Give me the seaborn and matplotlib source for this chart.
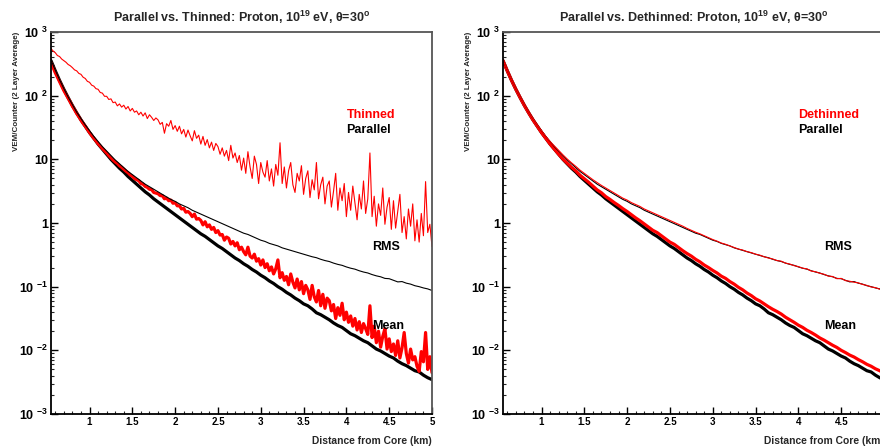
import seaborn as sns
import matplotlib.pyplot as plt
import numpy as np
from matplotlib.ticker import LogLocator, MultipleLocator, NullFormatter

# Distance bins (km) -- 0.05 km for the smooth curves, 0.025 km for the noisy thinned ones
dist = np.round(np.linspace(0.55, 5.0, 90), 3)
dist_fine = np.round(np.linspace(0.55, 5.0, 179), 3)

# All values are log10(VEM/counter)
parallel_mean = [
    2.55, 2.39, 2.24, 2.10, 1.97, 1.845, 1.73, 1.62, 1.52, 1.42,
    1.33, 1.24, 1.16, 1.08, 1.00, 0.93, 0.86, 0.80, 0.73, 0.67,
    0.61, 0.55, 0.49, 0.44, 0.38, 0.33, 0.28, 0.23, 0.18, 0.13,
    0.08, 0.03, -0.02, -0.07, -0.12, -0.17, -0.21, -0.26, -0.31, -0.36,
    -0.40, -0.45, -0.50, -0.55, -0.59, -0.64, -0.68, -0.73, -0.77, -0.82,
    -0.86, -0.91, -0.95, -1.00, -1.04, -1.09, -1.13, -1.18, -1.22, -1.27,
    -1.30, -1.35, -1.41, -1.44, -1.48, -1.52, -1.57, -1.61, -1.64, -1.69,
    -1.74, -1.77, -1.81, -1.85, -1.88, -1.93, -1.98, -2.01, -2.05, -2.09,
    -2.12, -2.17, -2.21, -2.24, -2.28, -2.32, -2.34, -2.39, -2.43, -2.46,
]
parallel_rms = [
    2.56, 2.40, 2.25, 2.11, 1.98, 1.86, 1.74, 1.64, 1.54, 1.45,
    1.36, 1.28, 1.20, 1.13, 1.06, 0.99, 0.93, 0.87, 0.81, 0.76,
    0.71, 0.66, 0.61, 0.57, 0.53, 0.49, 0.45, 0.41, 0.37, 0.34,
    0.30, 0.27, 0.24, 0.20, 0.17, 0.14, 0.11, 0.08, 0.05, 0.02,
    -0.01, -0.04, -0.07, -0.10, -0.13, -0.16, -0.18, -0.21, -0.24, -0.27,
    -0.29, -0.32, -0.34, -0.36, -0.39, -0.41, -0.43, -0.45, -0.47, -0.49,
    -0.51, -0.53, -0.545, -0.57, -0.59, -0.605, -0.63, -0.65, -0.665, -0.69,
    -0.71, -0.725, -0.75, -0.77, -0.785, -0.81, -0.83, -0.845, -0.87, -0.875,
    -0.90, -0.925, -0.92, -0.945, -0.96, -0.985, -1.00, -1.02, -1.035, -1.06,
]
dethinned_mean = [
    2.55, 2.39, 2.24, 2.10, 1.97, 1.845, 1.73, 1.62, 1.52, 1.42,
    1.33, 1.24, 1.16, 1.08, 1.005, 0.94, 0.875, 0.82, 0.75, 0.695,
    0.64, 0.58, 0.52, 0.475, 0.415, 0.37, 0.32, 0.275, 0.225, 0.18,
    0.13, 0.08, 0.035, -0.015, -0.065, -0.115, -0.15, -0.20, -0.25, -0.30,
    -0.335, -0.385, -0.435, -0.48, -0.52, -0.57, -0.61, -0.66, -0.70, -0.745,
    -0.785, -0.835, -0.87, -0.92, -0.96, -1.01, -1.05, -1.10, -1.14, -1.19,
    -1.225, -1.27, -1.315, -1.355, -1.39, -1.43, -1.48, -1.52, -1.56, -1.605,
    -1.64, -1.685, -1.72, -1.76, -1.805, -1.84, -1.88, -1.92, -1.955, -2.00,
    -2.035, -2.075, -2.105, -2.145, -2.18, -2.22, -2.25, -2.29, -2.32, -2.36,
]
dethinned_rms = [
    2.56, 2.40, 2.25, 2.11, 1.98, 1.86, 1.74, 1.64, 1.54, 1.45,
    1.36, 1.28, 1.21, 1.14, 1.07, 1.005, 0.945, 0.89, 0.83, 0.78,
    0.73, 0.68, 0.635, 0.59, 0.55, 0.51, 0.47, 0.43, 0.39, 0.36,
    0.32, 0.29, 0.26, 0.22, 0.19, 0.16, 0.13, 0.10, 0.07, 0.04,
    0.01, -0.02, -0.05, -0.085, -0.115, -0.145, -0.17, -0.20, -0.23, -0.26,
    -0.285, -0.315, -0.335, -0.36, -0.385, -0.41, -0.425, -0.45, -0.465, -0.49,
    -0.505, -0.53, -0.55, -0.565, -0.59, -0.60, -0.63, -0.645, -0.67, -0.685,
    -0.71, -0.72, -0.755, -0.765, -0.79, -0.805, -0.835, -0.84, -0.875, -0.87,
    -0.905, -0.915, -0.93, -0.94, -0.965, -0.98, -1.005, -1.015, -1.04, -1.055,
]
thinned_mean = [
    2.52, 2.44, 2.36, 2.29, 2.22, 2.15, 2.08, 2.02, 1.96, 1.90,
    1.835, 1.78, 1.72, 1.67, 1.615, 1.565, 1.52, 1.47, 1.42, 1.375,
    1.33, 1.29, 1.245, 1.21, 1.17, 1.135, 1.10, 1.06, 1.025, 0.99,
    0.96, 0.935, 0.90, 0.875, 0.845, 0.815, 0.79, 0.755, 0.735, 0.70,
    0.68, 0.665, 0.62, 0.61, 0.575, 0.56, 0.53, 0.525, 0.48, 0.47,
    0.46, 0.43, 0.43, 0.38, 0.39, 0.35, 0.36, 0.31, 0.32, 0.27,
    0.27, 0.22, 0.23, 0.17, 0.18, 0.15, 0.10, 0.14, 0.06, 0.07,
    0.04, -0.03, 0.02, -0.06, -0.03, -0.10, -0.07, -0.15, -0.12, -0.19,
    -0.18, -0.27, -0.22, -0.24, -0.33, -0.29, -0.36, -0.31, -0.42, -0.38,
    -0.45, -0.50, -0.38, -0.52, -0.55, -0.49, -0.60, -0.56, -0.66, -0.58,
    -0.70, -0.64, -0.75, -0.69, -0.80, -0.72, -0.58, -0.86, -0.78, -0.90,
    -0.84, -0.97, -0.80, -0.93, -1.02, -0.88, -1.05, -0.92, -1.11, -0.98,
    -1.05, -1.20, -0.98, -1.16, -1.24, -1.06, -1.30, -1.12, -1.34, -1.18,
    -1.22, -1.38, -1.28, -1.50, -1.33, -1.45, -1.26, -1.52, -1.40, -1.56,
    -1.46, -1.62, -1.50, -1.68, -1.55, -1.72, -1.58, -1.66, -1.75, -1.30,
    -1.80, -1.62, -1.88, -1.70, -1.95, -1.78, -1.66, -1.98, -1.82, -2.02,
    -1.90, -2.08, -1.85, -2.12, -1.96, -1.72, -2.05, -2.20, -1.98, -2.15,
    -2.10, -2.25, -2.33, -2.02, -2.18, -1.72, -2.30, -2.10, -2.35,
]
thinned_rms = [
    2.74, 2.70, 2.675, 2.63, 2.615, 2.575, 2.55, 2.525, 2.49, 2.47,
    2.44, 2.405, 2.39, 2.35, 2.335, 2.29, 2.27, 2.225, 2.21, 2.165,
    2.15, 2.11, 2.10, 2.05, 2.04, 1.99, 1.99, 1.94, 1.95, 1.89,
    1.90, 1.84, 1.87, 1.82, 1.85, 1.79, 1.83, 1.76, 1.80, 1.74,
    1.76, 1.70, 1.74, 1.68, 1.73, 1.64, 1.70, 1.66, 1.61, 1.65,
    1.62, 1.55, 1.58, 1.41, 1.56, 1.52, 1.61, 1.47, 1.53, 1.44,
    1.52, 1.40, 1.47, 1.35, 1.46, 1.37, 1.29, 1.45, 1.33, 1.38,
    1.24, 1.36, 1.22, 1.31, 1.18, 1.27, 1.14, 1.25, 1.20, 1.08,
    1.18, 1.05, 1.14, 0.98, 1.22, 1.02, 1.10, 0.95, 1.06, 0.83,
    1.02, 0.78, 1.12, 0.88, 0.70, 1.05, 0.92, 0.62, 0.95, 0.80,
    0.72, 0.98, 0.66, 0.85, 0.58, 0.92, 0.75, 1.26, 0.62, 0.88,
    0.55, 0.82, 0.95, 0.60, 0.48, 0.78, 0.66, 0.90, 0.45, 0.70,
    0.82, 0.40, 0.68, 0.52, 0.95, 0.38, 0.60, 0.72, 0.30, 0.58,
    0.66, 0.25, 0.50, 0.78, 0.20, 0.55, 0.35, 0.62, 0.10, 0.48,
    0.20, 0.58, 0.32, 0.05, 0.45, 0.22, 0.66, 0.15, 0.38, 1.10,
    0.10, 0.42, -0.05, 0.30, 0.12, 0.55, -0.02, 0.25, 0.40, -0.10,
    0.35, -0.08, 0.18, 0.45, -0.15, 0.10, -0.25, 0.22, -0.05, 0.30,
    -0.28, 0.05, -0.30, 0.15, -0.20, 0.65, -0.15, -0.02, -0.37,
]

titles = [r'Parallel vs. Thinned: Proton, 10$^{\mathbf{19}}$ eV, $\mathbf{\theta}$=30$^{\mathbf{o}}$',
          r'Parallel vs. Dethinned: Proton, 10$^{\mathbf{19}}$ eV, $\mathbf{\theta}$=30$^{\mathbf{o}}$']
legend_names = ['Thinned', 'Dethinned']
xtick_vals = [1, 1.5, 2, 2.5, 3, 3.5, 4, 4.5, 5]
xtick_labels = ['1', '1.5', '2', '2.5', '3', '3.5', '4', '4.5', '5']
ytick_vals = [1e-3, 1e-2, 1e-1, 1, 10, 1e2, 1e3]
ytick_labels = [r'10 $^{\mathbf{-3}}$', r'10 $^{\mathbf{-2}}$', r'10 $^{\mathbf{-1}}$', '1', '10',
                r'10 $^{\mathbf{2}}$', r'10 $^{\mathbf{3}}$']

sns.set_theme(style="ticks")
plt.rcParams['font.family'] = ['Liberation Sans', 'DejaVu Sans']
plt.rcParams['font.weight'] = 'bold'
plt.rcParams['mathtext.fontset'] = 'custom'
plt.rcParams['mathtext.rm'] = 'Liberation Sans:bold'
plt.rcParams['mathtext.bf'] = 'Liberation Sans:bold'
plt.rcParams['mathtext.it'] = 'Liberation Sans:bold'

fig = plt.figure(figsize=(8.8, 4.47), dpi=100)
ax1 = fig.add_axes([51 / 880, 33 / 447, 381 / 880, 382 / 447])
ax2 = fig.add_axes([503 / 880, 33 / 447, 381 / 880, 382 / 447])

panels = [
    (ax1, thinned_mean, thinned_rms, dist_fine),
    (ax2, dethinned_mean, dethinned_rms, dist),
]

for i, (ax, red_mean, red_rms, red_x) in enumerate(panels):
    sns.lineplot(x=dist, y=10 ** np.array(parallel_mean), ax=ax, color='black',
                 linewidth=2.3, estimator=None, sort=False)
    sns.lineplot(x=red_x, y=10 ** np.array(red_mean), ax=ax, color='#ff0000',
                 linewidth=2.3, estimator=None, sort=False)
    sns.lineplot(x=dist, y=10 ** np.array(parallel_rms), ax=ax, color='black',
                 linewidth=0.8, estimator=None, sort=False)
    sns.lineplot(x=red_x, y=10 ** np.array(red_rms), ax=ax, color='#ff0000',
                 linewidth=0.8, estimator=None, sort=False)

    ax.set_yscale('log')
    ax.set_xlim(0.55, 5.0)
    ax.set_ylim(1e-3, 1e3)

    # the right panel runs off the picture edge, its "5" is not shown
    xl = xtick_labels if i == 0 else xtick_labels[:-1] + ['']
    ax.set_xticks(xtick_vals, labels=xl)
    ax.xaxis.set_minor_locator(MultipleLocator(0.1))
    ax.set_yticks(ytick_vals, labels=ytick_labels)
    ax.yaxis.set_minor_locator(LogLocator(base=10, subs=np.arange(2, 10)))
    ax.yaxis.set_minor_formatter(NullFormatter())

    ax.tick_params(axis='both', which='major', direction='in', length=5, width=1,
                   top=False, right=False, pad=2, colors='black')
    ax.tick_params(axis='both', which='minor', direction='in', length=2.5, width=0.8,
                   top=False, right=False)
    ax.tick_params(axis='x', labelsize=7)
    ax.tick_params(axis='y', labelsize=9)

    for side in ['left', 'bottom']:
        ax.spines[side].set_linewidth(1.3)
        ax.spines[side].set_color('black')
    for side in ['top', 'right']:
        ax.spines[side].set_linewidth(1.3)
        ax.spines[side].set_color('#555555')

    ax.set_title(titles[i], fontsize=9, fontweight='bold', pad=7)
    ax.set_xlabel('Distance from Core (km)', fontsize=7.4, fontweight='bold')
    ax.xaxis.set_label_coords(1.0, -0.058)
    ax.xaxis.label.set_horizontalalignment('right')
    ax.set_ylabel('VEM/Counter (2 Layer Average)', fontsize=5.8, fontweight='bold')
    ax.yaxis.set_label_coords(-0.082, 1.0)
    ax.yaxis.label.set_horizontalalignment('right')

    ax.text(4.0, 10 ** 1.70, legend_names[i], color='#ff0000', fontsize=9,
            fontweight='bold', ha='left', va='center')
    ax.text(4.0, 10 ** 1.46, 'Parallel', color='black', fontsize=9,
            fontweight='bold', ha='left', va='center')
    ax.text(4.3, 10 ** -0.375, 'RMS', color='black', fontsize=9,
            fontweight='bold', ha='left', va='center')
    ax.text(4.3, 10 ** -1.62, 'Mean', color='black', fontsize=9,
            fontweight='bold', ha='left', va='center')

fig.savefig("out.png", dpi=100)
